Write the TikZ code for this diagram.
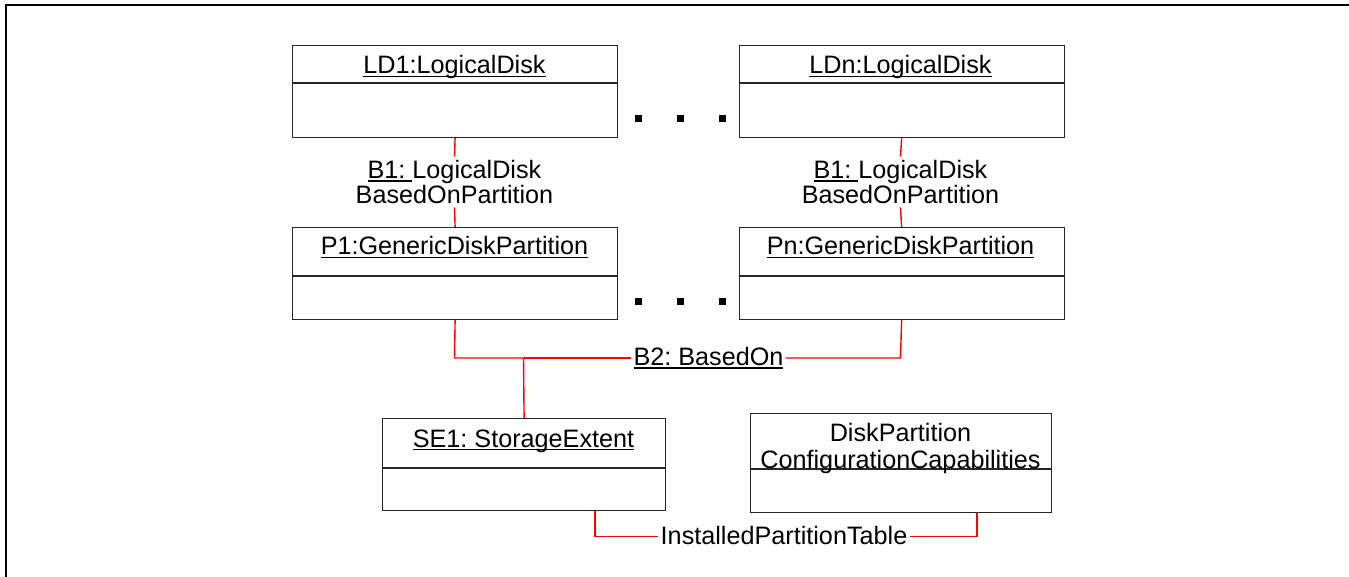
\documentclass[tikz,border=0pt]{standalone}
\usepackage{fontspec}
\setmainfont{Liberation Sans}
\frenchspacing
\definecolor{connred}{RGB}{255,0,0}
\newcommand{\myul}[1]{\setbox0\hbox{#1}\rlap{\rule[-1.5pt]{\wd0}{0.6pt}}\box0}
\begin{document}
\begin{tikzpicture}[x=0.5pt,y=-0.5pt,
  font=\fontsize{12.6}{12.5}\selectfont,
  umlbox/.style={draw=black!85, line width=0.6pt, rectangle, inner sep=0, anchor=north west, minimum height=46pt},
  divline/.style={draw=black!85, line width=0.6pt},
  title/.style={anchor=base, inner sep=0},
  conn/.style={draw=connred, line width=0.7pt},
  dotsq/.style={fill=black, rectangle, inner sep=0, minimum size=3.5pt},
  clabel/.style={inner sep=0, align=center}]
\useasboundingbox (0,0) rectangle (1349,577);
% frame
\draw[line width=1.1pt] (6,577) -- (6,5) -- (1349,5);

% boxes
\node[umlbox, minimum width=162.5pt] (LD1) at (292,45) {};
\node[umlbox, minimum width=162.5pt] (LDn) at (738.5,45) {};
\node[umlbox, minimum width=162.5pt] (P1) at (292,227) {};
\node[umlbox, minimum width=162.5pt] (Pn) at (738.5,227) {};
\node[umlbox, minimum width=141.5pt] (SE1) at (382,418) {};
\node[umlbox, minimum width=150.5pt, minimum height=49.5pt] (DP) at (750,413) {};

% dividers
\draw[divline] ([yshift=-19pt]LD1.north west) -- ([yshift=-19pt]LD1.north east);
\draw[divline] ([yshift=-19pt]LDn.north west) -- ([yshift=-19pt]LDn.north east);
\draw[divline] ([yshift=-24.5pt]P1.north west) -- ([yshift=-24.5pt]P1.north east);
\draw[divline] ([yshift=-24.5pt]Pn.north west) -- ([yshift=-24.5pt]Pn.north east);
\draw[divline] ([yshift=-25pt]SE1.north west) -- ([yshift=-25pt]SE1.north east);
\draw[divline] ([yshift=-28pt]DP.north west) -- ([yshift=-28pt]DP.north east);

% titles
\node[title] (LD1t) at (454.5,74) {\myul{LD1:LogicalDisk}};
\node[title] (LDnt) at (900.5,74) {\myul{LDn:LogicalDisk}};
\node[title] (P1t) at (454.5,255) {\myul{P1:GenericDiskPartition}};
\node[title] (Pnt) at (900.5,255) {\myul{Pn:GenericDiskPartition}};
\node[title] (SE1t) at (523.5,447) {\myul{SE1: StorageExtent}};
\node[title] (DPt1) at (900.5,441) {DiskPartition};
\node[title] (DPt2) at (900.5,468) {ConfigurationCapabilities};

% dots
\foreach \x/\n in {638/1,680/2,722/3}{
  \node[dotsq] (dt\n) at (\x,119) {};
  \node[dotsq] (db\n) at (\x,302) {};
}

% connector labels
\node[clabel, inner ysep=1.6pt] (b1l) at (454.5,182) {\myul{B1:\ }LogicalDisk\\BasedOnPartition};
\node[clabel, inner ysep=1.6pt] (b1r) at (900.5,182) {\myul{B1:\ }LogicalDisk\\BasedOnPartition};
\node[inner sep=0] (b2) at (708.5,358) {\myul{B2: BasedOn}};
\node[inner sep=0, text depth=1.5pt] (ipt) at (784,536.5) {InstalledPartitionTable};
\coordinate (j) at (523.5,358);
\coordinate (pl) at (454.5,358);
\coordinate (pr) at (900.5,358);

% connectors
\draw[conn] (LD1.south) -- (b1l.north);
\draw[conn] (b1l.south) -- (P1.north);
\draw[conn] (LDn.south) -- (b1r.north);
\draw[conn] (b1r.south) -- (Pn.north);
\draw[conn] (P1.south) -- (pl) -- (j);
\draw[conn] (j) -- ([xshift=-1pt]b2.west);
\draw[conn] ([xshift=1pt]b2.east) -- (pr) -- (Pn.south);
\draw[conn] (SE1.north) -- (j);
\draw[conn] ([xshift=35.5pt]SE1.south) |- ([xshift=-1pt]ipt.west);
\draw[conn] ([xshift=1pt]ipt.east) -| ([xshift=38pt]DP.south);
\end{tikzpicture}
\end{document}
